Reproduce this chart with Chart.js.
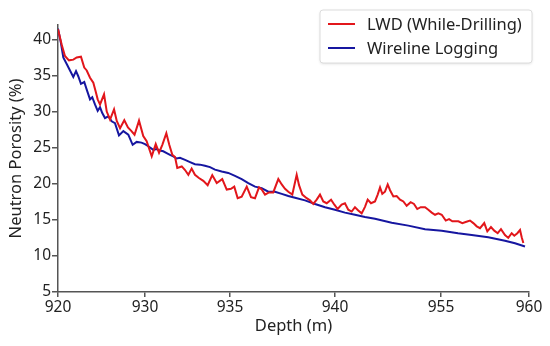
<!DOCTYPE html>
<html>
<head>
<meta charset="utf-8">
<script src="https://cdn.jsdelivr.net/npm/chart.js@4/dist/chart.umd.min.js"></script>
<style>
  html, body { margin: 0; padding: 0; background: #fff; }
  #wrap { width: 550px; height: 346px; position: relative; }
</style>
</head>
<body>
<div id="wrap"><canvas id="porosityChart"></canvas></div>
<script>
// LWD (while-drilling) neutron porosity, depth vs %
const lwdDepth = [920.0, 920.31, 920.59, 920.93, 921.30, 921.59, 921.95, 922.23, 922.44, 922.72,
  923.00, 923.20, 923.37, 923.57, 923.91, 924.14, 924.42, 924.76, 924.99, 925.27,
  925.63, 925.94, 926.24, 926.50, 926.88, 927.24, 927.53, 927.96, 928.30, 928.58,
  928.86, 929.20, 929.45, 929.71, 929.94, 930.13, 930.51, 930.79, 931.07, 931.35,
  931.63, 931.97, 932.34, 932.71, 933.10, 933.48, 933.95, 934.33, 934.69, 934.97,
  935.26, 935.60, 936.03, 936.39, 936.73, 937.07, 937.30, 937.58, 937.92, 938.28,
  938.71, 939.00, 939.28, 939.56, 939.90, 940.27, 940.47, 940.75, 941.12, 941.40,
  941.68, 941.97, 942.25, 942.53, 942.82, 943.19, 943.47, 943.75, 944.09, 944.37,
  944.65, 944.94, 945.22, 945.50, 945.79, 946.07, 946.30, 946.58, 946.92, 947.15,
  947.35, 947.54, 947.77, 948.00, 948.20, 948.48, 948.76, 949.05, 949.33, 949.61,
  949.95, 950.23, 950.51, 950.80, 951.17, 951.45, 951.74, 952.02, 952.30, 952.59,
  952.93, 953.21, 953.49, 953.78, 954.00, 954.34, 954.62, 954.99, 955.27, 955.56,
  955.84, 956.20, 956.46, 956.77, 957.05, 957.34, 957.62, 957.96, 958.24, 958.53,
  958.75, 959.01, 959.24, 959.38, 959.52];
const lwdPorosity = [41.4, 39.3, 37.7, 37.1, 37.2, 37.5, 37.6, 36.1, 35.7, 34.7,
  34.0, 32.8, 31.7, 31.0, 32.4, 30.0, 28.9, 30.3, 28.7, 27.7,
  28.8, 27.8, 27.3, 26.8, 28.75, 26.6, 25.9, 23.8, 25.5, 24.3,
  25.4, 27.0, 25.4, 24.0, 23.7, 22.2, 22.4, 21.9, 21.25, 22.1,
  21.25, 20.8, 20.4, 19.8, 21.2, 20.1, 20.65, 19.2, 19.3, 19.6,
  18.0, 18.2, 19.6, 18.15, 18.0, 19.5, 19.2, 18.5, 18.8, 18.8,
  20.65, 19.9, 19.3, 18.9, 18.5, 21.25, 19.8, 18.5, 18.0, 17.7,
  17.2, 17.8, 18.5, 17.55, 17.3, 17.8, 17.1, 16.5, 17.1, 17.3,
  16.4, 16.15, 16.75, 16.3, 15.9, 16.8, 17.8, 17.3, 17.55, 18.5,
  19.5, 18.6, 18.9, 19.9, 19.1, 18.25, 18.3, 17.8, 17.55, 16.95,
  17.45, 17.2, 16.5, 16.75, 16.75, 16.4, 16.0, 15.7, 15.9, 15.7,
  14.9, 15.1, 14.8, 14.8, 14.8, 14.55, 14.7, 14.9, 14.55, 14.1,
  13.85, 14.55, 13.4, 14.0, 13.5, 13.15, 13.7, 12.9, 12.5, 13.15,
  12.8, 13.15, 13.6, 12.6, 11.8];

// Wireline logging neutron porosity
const wirelineDepth = [920.0, 920.25, 920.45, 920.74, 921.02, 921.30, 921.53, 921.72, 921.95, 922.23,
  922.44, 922.72, 922.91, 923.14, 923.37, 923.57, 923.76, 923.99, 924.27, 924.56,
  924.84, 925.18, 925.55, 925.97, 926.34, 926.68, 927.09, 927.39, 927.67, 928.09,
  928.38, 928.66, 928.94, 929.23, 929.51, 929.79, 930.08, 930.36, 930.79, 931.21,
  931.63, 932.06, 932.48, 932.91, 933.33, 933.90, 934.46, 935.03, 935.60, 936.16,
  936.73, 937.30, 937.86, 938.43, 939.00, 939.56, 940.13, 940.98, 941.83, 942.68,
  943.52, 944.37, 945.22, 946.07, 946.92, 948.34, 949.75, 951.17, 952.59, 953.97,
  955.13, 956.54, 957.96, 958.81, 959.66];
const wirelinePorosity = [41.5, 39.5, 37.5, 36.6, 35.7, 34.8, 35.6, 34.9, 33.85, 34.1,
  33.05, 31.7, 32.0, 31.0, 30.1, 30.6, 29.8, 29.1, 29.35, 28.65,
  28.4, 26.7, 27.3, 26.8, 25.4, 25.8, 25.7, 25.5, 25.2, 24.7,
  24.8, 24.6, 24.5, 24.25, 24.0, 23.8, 23.5, 23.6, 23.3, 23.0,
  22.7, 22.65, 22.5, 22.3, 21.95, 21.7, 21.5, 21.1, 20.65, 20.1,
  19.6, 19.4, 18.9, 18.9, 18.6, 18.3, 18.05, 17.7, 17.2, 16.75,
  16.4, 16.0, 15.7, 15.4, 15.15, 14.6, 14.2, 13.7, 13.5, 13.15,
  12.9, 12.6, 12.1, 11.75, 11.3];

// x tick marks: where they sit on the depth scale and what they read
const xTickValues = [920, 927.39, 934.61, 943.52, 952.53, 960];
const xTickLabels = ['920', '930', '935', '940', '955', '960'];
const yTickValues = [5, 10, 15, 20, 25, 30, 35, 40];

const seriesNames = ['LWD (While-Drilling)', 'Wireline Logging'];
const seriesColors = ['#e2161b', '#1616a0'];

const FONT = "'Noto Sans', 'Open Sans', sans-serif";
const AXIS = '#555555';

function toPoints(xs, ys) {
    return xs.map((x, i) => ({ x: x, y: ys[i] }));
}

// legend drawn as a framed box in the top right corner
const boxLegend = {
    id: 'boxLegend',
    afterDraw(chart) {
        const ctx = chart.ctx;
        const left = 320, top = 10, w = 212, h = 53;
        ctx.save();
        ctx.shadowColor = 'rgba(0,0,0,0.12)';
        ctx.shadowBlur = 3;
        ctx.shadowOffsetY = 1;
        ctx.fillStyle = '#ffffff';
        ctx.beginPath();
        ctx.roundRect(left, top, w, h, 3);
        ctx.fill();
        ctx.shadowColor = 'transparent';
        ctx.strokeStyle = '#dcdcdc';
        ctx.lineWidth = 1;
        ctx.stroke();
        ctx.font = '16.5px ' + FONT;
        ctx.textBaseline = 'middle';
        chart.data.datasets.forEach((ds, i) => {
            const y = top + 14 + i * 24;
            ctx.strokeStyle = ds.borderColor;
            ctx.lineWidth = 2;
            ctx.beginPath();
            ctx.moveTo(left + 8, y);
            ctx.lineTo(left + 35, y);
            ctx.stroke();
            ctx.fillStyle = '#222';
            ctx.fillText(ds.label, left + 47, y + 1);
        });
        ctx.restore();
    }
};

const ctx = document.getElementById('porosityChart').getContext('2d');

const chart = new Chart(ctx, {
    type: 'line',
    data: {
        datasets: [{
            label: seriesNames[0],
            data: toPoints(lwdDepth, lwdPorosity),
            borderColor: seriesColors[0],
            borderWidth: 2,
            pointRadius: 0,
            fill: false,
            tension: 0
        }, {
            label: seriesNames[1],
            data: toPoints(wirelineDepth, wirelinePorosity),
            borderColor: seriesColors[1],
            borderWidth: 2,
            pointRadius: 0,
            fill: false,
            tension: 0
        }]
    },
    options: {
        responsive: true,
        maintainAspectRatio: false,
        animation: false,
        layout: { padding: { top: 25, right: 21, left: 6, bottom: 10 } },
        scales: {
            x: {
                type: 'linear',
                min: 920,
                max: 960,
                afterBuildTicks: (scale) => { scale.ticks = xTickValues.map(v => ({ value: v })); },
                afterFit: (scale) => { scale.height = 44; },
                ticks: {
                    autoSkip: false,
                    maxRotation: 0,
                    padding: 1,
                    color: '#222',
                    font: { family: FONT, size: 15.5 },
                    callback: (value, index) => xTickLabels[index]
                },
                grid: { drawOnChartArea: false, drawTicks: true, tickLength: 5, color: AXIS, lineWidth: 1.5 },
                border: { display: true, color: AXIS, width: 1.5 },
                title: {
                    display: true,
                    text: 'Depth (m)',
                    color: '#222',
                    font: { family: FONT, size: 16.5 },
                    padding: { top: 2, bottom: 0 }
                }
            },
            y: {
                type: 'linear',
                min: 5,
                max: 42,
                afterBuildTicks: (scale) => { scale.ticks = yTickValues.map(v => ({ value: v })); },
                afterFit: (scale) => { scale.width = 52; },
                ticks: {
                    padding: 1,
                    color: '#222',
                    font: { family: FONT, size: 15.5 }
                },
                grid: { drawOnChartArea: false, drawTicks: true, tickLength: 6, color: AXIS, lineWidth: 1.5 },
                border: { display: true, color: AXIS, width: 1.5 },
                title: {
                    display: true,
                    text: 'Neutron Porosity (%)',
                    color: '#222',
                    font: { family: FONT, size: 16.5 },
                    padding: { top: 0, bottom: 2 }
                }
            }
        },
        plugins: {
            legend: { display: false },
            tooltip: { enabled: false }
        }
    },
    plugins: [boxLegend]
});
</script>
</body>
</html>
